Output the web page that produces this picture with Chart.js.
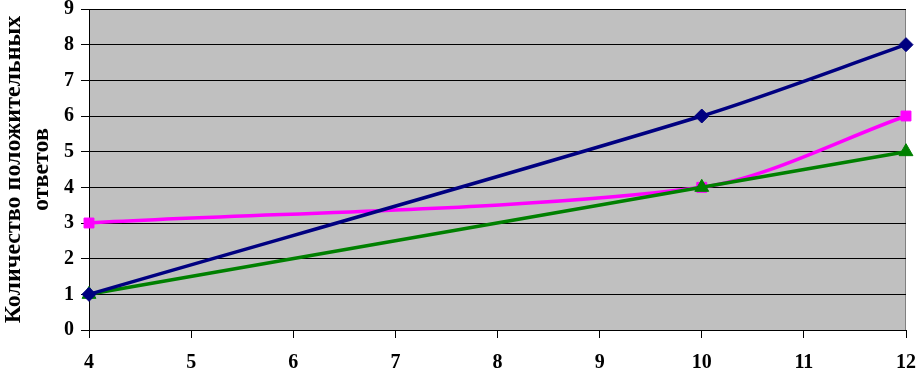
<!DOCTYPE html>
<html>
<head>
<meta charset="utf-8">
<script src="https://cdn.jsdelivr.net/npm/chart.js@4"></script>
<style>
  html, body { margin: 0; padding: 0; background: #fff; }
  #wrap { width: 919px; height: 370px; }
</style>
</head>
<body>
<div id="wrap"><canvas id="chart" width="919" height="370"></canvas></div>
<script>
const xValues = [4, 10, 12];
const seriesBlue = [1, 6, 8];
const seriesPink = [3, 4, 6];
const seriesGreen = [1, 4, 5];
const yTitle = ['Количество положительных', 'ответов'];

const pts = arr => arr.map((y, i) => ({ x: xValues[i], y }));

// grey plot area with a thin grey frame, like the old Excel chart
const plotBg = {
  id: 'plotBg',
  beforeDraw(chart) {
    const { ctx, chartArea: a } = chart;
    ctx.save();
    ctx.fillStyle = '#c0c0c0';
    ctx.fillRect(a.left, a.top, a.right - a.left, a.bottom - a.top);
    ctx.strokeStyle = '#808080';
    ctx.lineWidth = 1;
    ctx.strokeRect(a.left + 0.5, a.top + 0.5, a.right - a.left - 1, a.bottom - a.top);
    ctx.restore();
  }
};

const ds = (data, color, style, r, order) => ({
  data: pts(data),
  borderColor: color,
  backgroundColor: color,
  borderWidth: 3.5,
  pointStyle: style,
  pointRadius: r,
  pointBorderWidth: 1,
  tension: 0.3,
  clip: false,
  order
});

// let the edge tick labels hang over the margins instead of shrinking the plot
const noEdgePad = s => {
  s.paddingTop = 0; s.paddingBottom = 0; s.paddingLeft = 0; s.paddingRight = 0;
};

new Chart(document.getElementById('chart'), {
  type: 'line',
  data: {
    datasets: [
      ds(seriesBlue, '#000080', 'rectRot', 7, 0),
      ds(seriesPink, '#ff00ff', 'rect', 7, 2),
      ds(seriesGreen, '#008000', 'triangle', 8, 1)
    ]
  },
  plugins: [plotBg],
  options: {
    responsive: false,
    animation: false,
    layout: { padding: { left: 0, right: 13, top: 8, bottom: 0 } },
    plugins: { legend: { display: false }, tooltip: { enabled: false } },
    scales: {
      x: {
        type: 'linear',
        min: 4, max: 12,
        afterFit: s => { s.height = 40; noEdgePad(s); },
        ticks: {
          stepSize: 1, color: '#000', padding: 13,
          font: { family: 'Liberation Serif', size: 20, weight: 'bold' }
        },
        grid: { drawOnChartArea: false, tickLength: 8, color: '#000' },
        border: { color: '#000' }
      },
      y: {
        min: 0, max: 9,
        afterFit: s => { s.width = 89; noEdgePad(s); },
        ticks: {
          stepSize: 1, color: '#000', padding: 7,
          font: { family: 'Liberation Serif', size: 20, weight: 'bold' }
        },
        grid: { color: '#000', tickLength: 8 },
        border: { color: '#000' },
        title: {
          display: true,
          text: yTitle,
          color: '#000',
          font: { family: 'Liberation Serif', size: 24, weight: 'bold', lineHeight: 1.15 },
          padding: 0
        }
      }
    }
  }
});
</script>
</body>
</html>
